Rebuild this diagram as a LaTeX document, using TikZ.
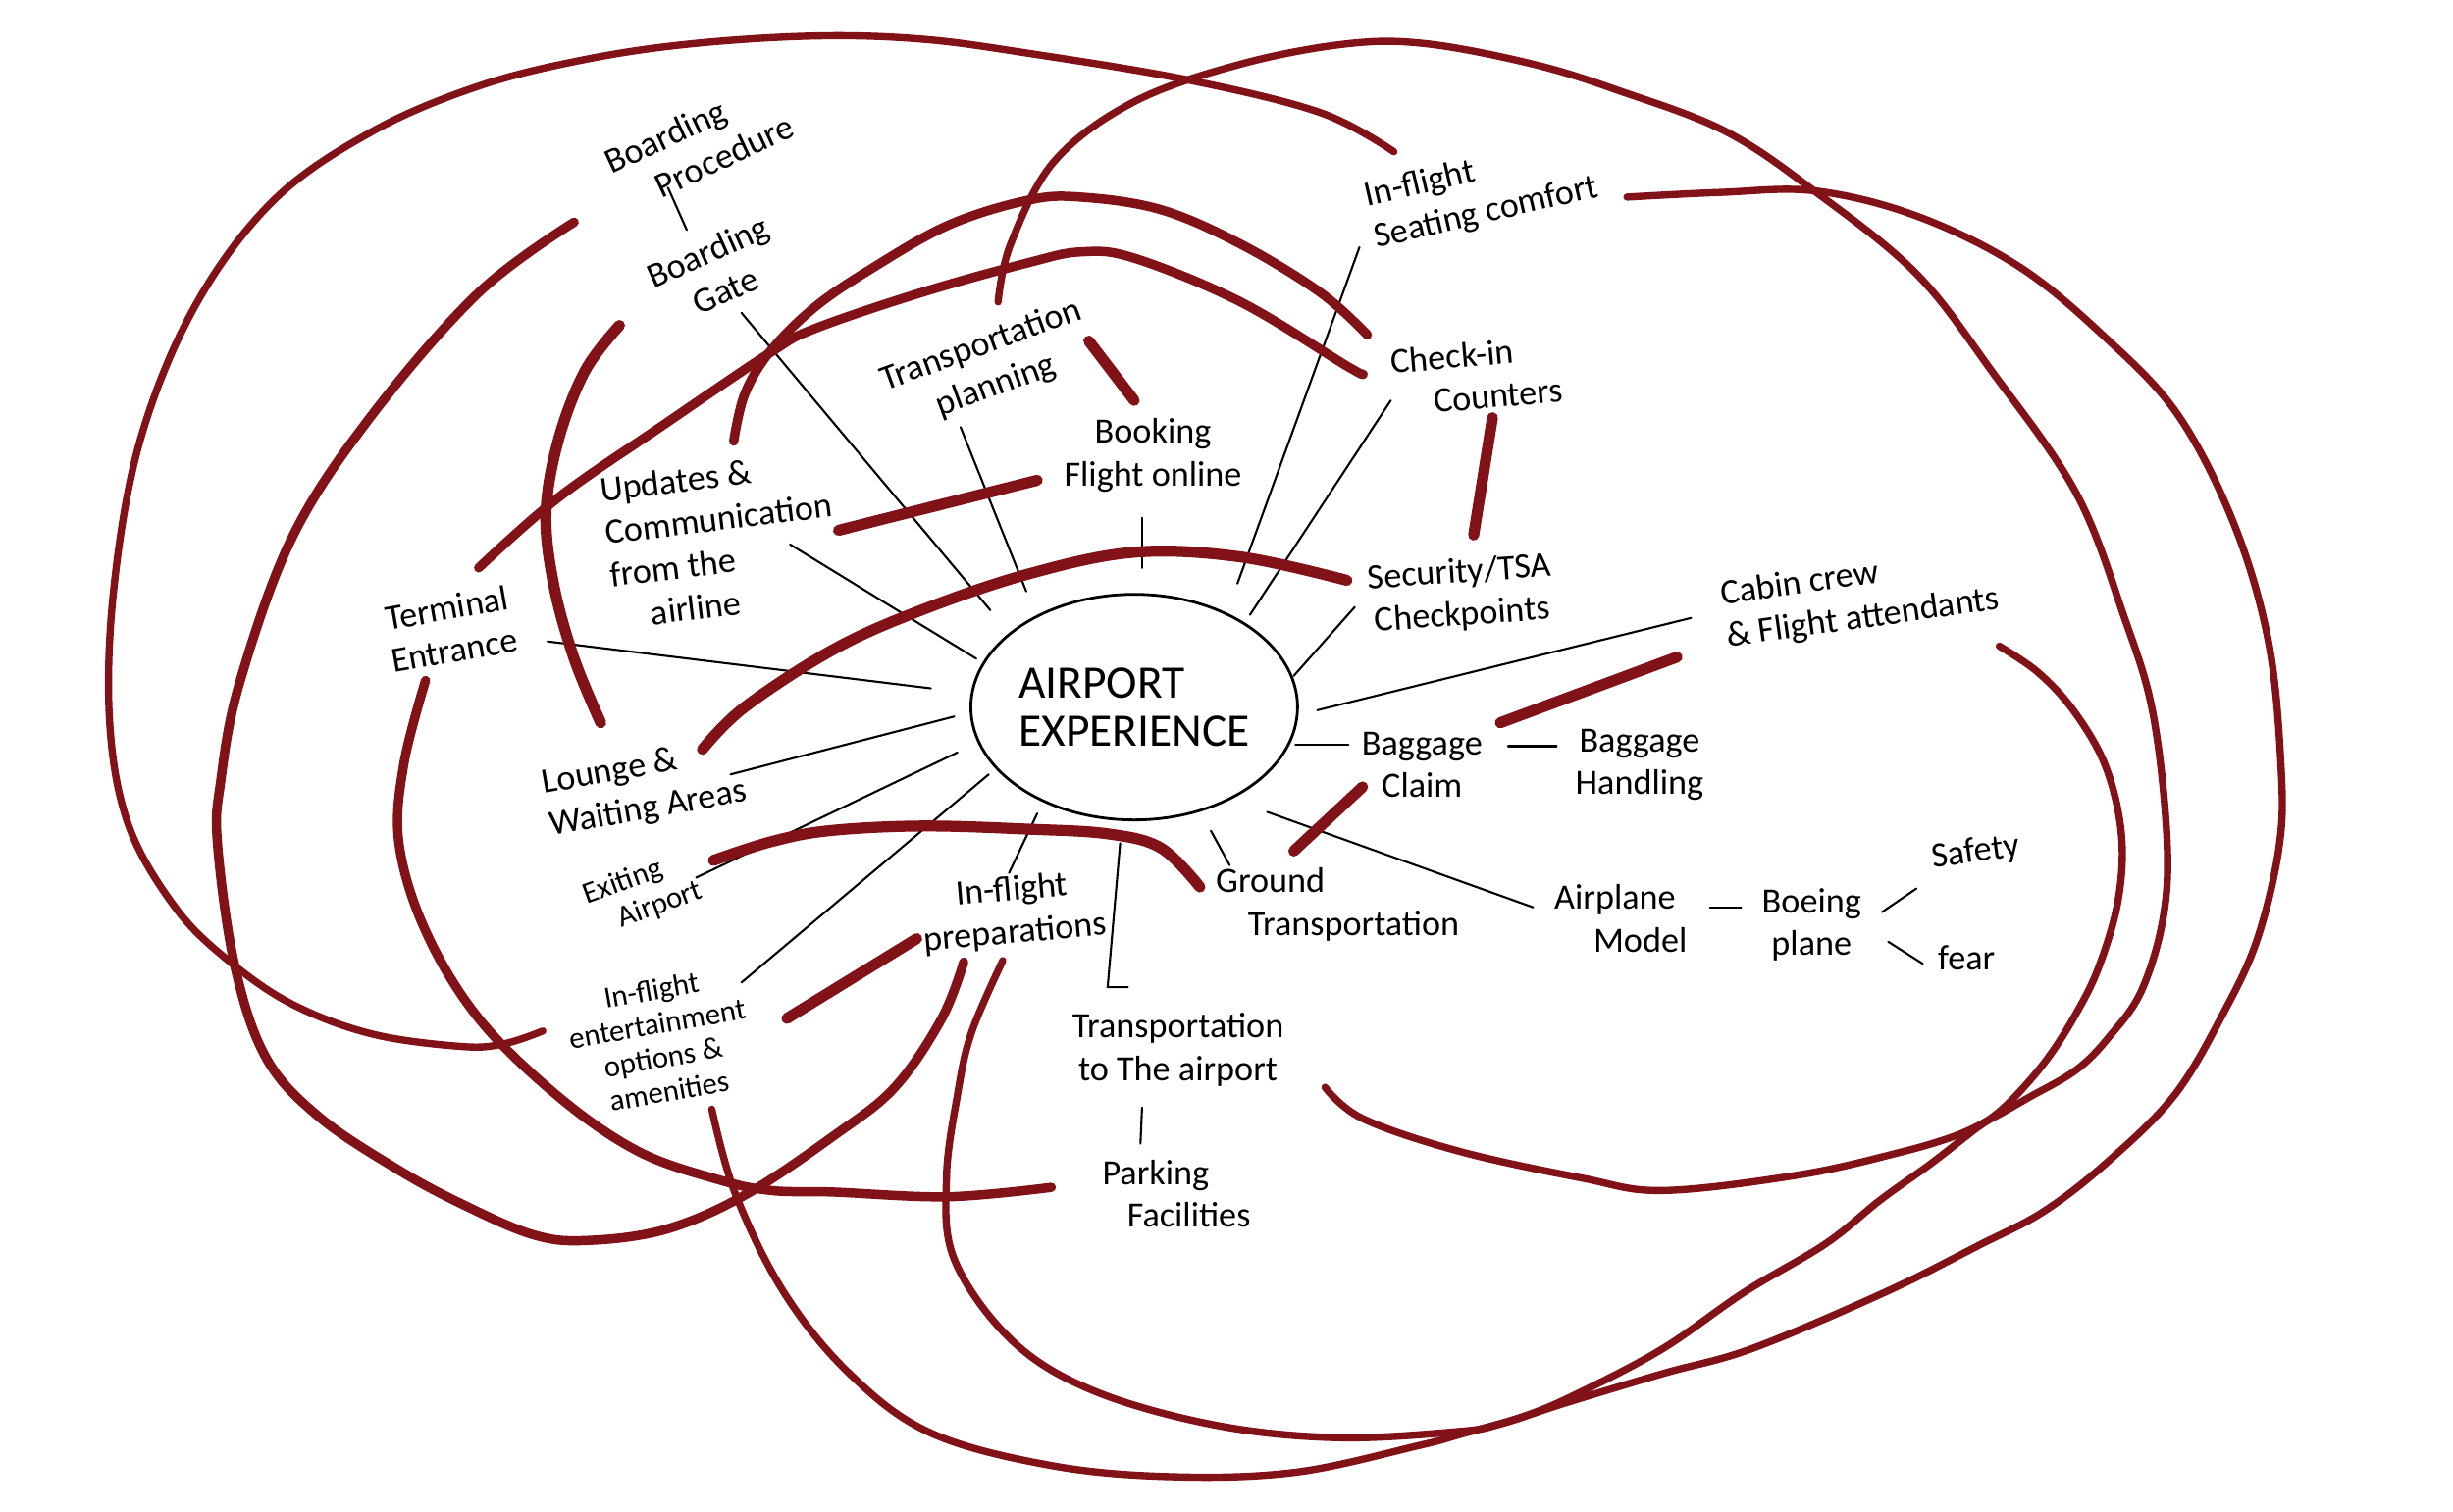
\documentclass[tikz,border=0pt]{standalone}
\usepackage{fontspec}
\setmainfont{Carlito}
\usetikzlibrary{shapes.geometric}
\definecolor{mred}{RGB}{128,18,24}
\newcommand\lblfont{\fontsize{10.3}{12.4}\selectfont}
\newcommand\smlfont{\fontsize{8.8}{9.9}\selectfont}
\newcommand\bigfont{\fontsize{13.5}{14}\selectfont}
\begin{document}
\begin{tikzpicture}[x=0.0159439cm,y=-0.0159439cm,
  lbl/.style={font=\lblfont, inner sep=0pt, align=center, text=black},
  link/.style={draw=black, line width=0.6pt, line cap=round},
  rthick/.style={draw=mred, line width=3.2pt, line cap=round, line join=round},
  rmid/.style={draw=mred, line width=2.7pt, line cap=round, line join=round},
  rthin/.style={draw=mred, line width=2.1pt, line cap=round, line join=round},
  curvy/.style={smooth, tension=0.6}]
\fill[white] (0,0) rectangle (1568,966);
\useasboundingbox (0,0) rectangle (1568,966);

% ---------- labels ----------
\node[draw, ellipse, minimum width=3.09cm, minimum height=2.30cm, inner sep=0pt,
      line width=0.8pt, align=left, font=\bigfont] (core) at (725,452) {AIRPORT\\EXPERIENCE};
\node[lbl, rotate=25, align=left] (bproc) at (447,92) {Boarding\\\hspace*{1em}Procedure};
\node[lbl, rotate=24] (bgate) at (458,173) {Boarding\\Gate};
\node[lbl, rotate=20] (tplan) at (632,234) {Transportation\\planning};
\node[lbl] (booking) at (737,291) {Booking\\Flight online};
\node[lbl, rotate=13, align=left] (seat) at (947,123) {In-flight\\Seating comfort};
\node[lbl, rotate=5, align=left] (checkin) at (944,240) {Check-in\\\hspace*{1.1em}Counters};
\node[lbl, rotate=4] (security) at (934,380) {Security/TSA\\Checkpoints};
\node[lbl, rotate=8, align=left] (cabin) at (1189,382) {Cabin crew\\\& Flight attendants};
\node[lbl] (bclaim) at (909,489) {Baggage\\Claim};
\node[lbl] (bhandle) at (1048,489) {Baggage\\Handling};
\node[lbl, align=left] (airplane) at (1036,587) {Airplane\\\hspace*{1.1em}Model};
\node[lbl] (boeing) at (1158,591) {Boeing\\plane};
\node[lbl, rotate=8] (safety) at (1263,545) {Safety};
\node[lbl] (fear) at (1257,612) {fear};
\node[lbl, align=left] (ground) at (855,578) {Ground\\\hspace*{0.9em}Transportation};
\node[lbl, rotate=5] (prep) at (648,583) {In-flight\\preparations};
\node[lbl] (tairport) at (753,671) {Transportation\\to The airport};
\node[lbl, align=left] (parking) at (752,763) {Parking\\\hspace*{0.7em}Facilities};
\node[lbl, font=\smlfont, rotate=10] (ent) at (422,665) {In-flight\\entertainment\\options \&\\amenities};
\node[lbl, font=\smlfont, rotate=20, align=left] (exiting) at (411,571) {Exiting\\\hspace*{0.8em}Airport};
\node[lbl, rotate=10, align=left] (lounge) at (412,504) {Lounge \&\\Waiting Areas};
\node[lbl, rotate=10] (terminal) at (288,402) {Terminal\\Entrance};
\node[lbl, rotate=7, align=left] (updates) at (461,345) {Updates \&\\Communication\\from the\\\hspace*{1em}airline};

% ---------- thin connector ends ----------
\coordinate (bp1) at (427,120); \coordinate (bg0) at (439,147);
\coordinate (bg1) at (474,200); \coordinate (k1) at (633,390);
\coordinate (tp1) at (614,273); \coordinate (k2) at (656,378);
\coordinate (bk1) at (730,331); \coordinate (k3) at (730,363);
\coordinate (sc1) at (869,158); \coordinate (k4) at (791,373);
\coordinate (ci1) at (889,256); \coordinate (k5) at (799,393);
\coordinate (se1) at (866,388); \coordinate (k6) at (827,432);
\coordinate (cc1) at (1081,395); \coordinate (k7) at (842,454);
\coordinate (k8) at (828,476); \coordinate (bc1) at (862,476);
\coordinate (bc2) at (964,477); \coordinate (bh1) at (995,477);
\coordinate (k9) at (810,519); \coordinate (am1) at (980,580);
\coordinate (am2) at (1093,580); \coordinate (bo1) at (1113,580);
\coordinate (bo2) at (1203,583); \coordinate (sf1) at (1225,568);
\coordinate (bo3) at (1207,602); \coordinate (fe1) at (1229,616);
\coordinate (k10) at (774,531); \coordinate (gt1) at (786,553);
\coordinate (k11) at (716,539); \coordinate (ta0) at (708,631); \coordinate (ta1) at (721,631);
\coordinate (ta2) at (730,708); \coordinate (pk1) at (729,731);
\coordinate (ip1) at (645,558); \coordinate (k12) at (663,520);
\coordinate (en1) at (474,628); \coordinate (k13) at (632,495);
\coordinate (ex1) at (445,561); \coordinate (k14) at (612,481);
\coordinate (lo1) at (467,495); \coordinate (k15) at (610,458);
\coordinate (te1) at (350,410); \coordinate (k16) at (595,440);
\coordinate (up1) at (505,348); \coordinate (k17) at (624,421);

\draw[link] (bp1) -- (bg0);
\draw[link] (bg1) -- (k1);
\draw[link] (tp1) -- (k2);
\draw[link] (bk1) -- (k3);
\draw[link] (sc1) -- (k4);
\draw[link] (ci1) -- (k5);
\draw[link] (se1) -- (k6);
\draw[link] (cc1) -- (k7);
\draw[link] (k8) -- (bc1);
\draw[link] (bc2) -- (bh1);
\draw[link] (k9) -- (am1);
\draw[link] (am2) -- (bo1);
\draw[link] (bo2) -- (sf1);
\draw[link] (bo3) -- (fe1);
\draw[link] (k10) -- (gt1);
\draw[link] (k11) -- (ta0) -- (ta1);
\draw[link] (ta2) -- (pk1);
\draw[link] (ip1) -- (k12);
\draw[link] (en1) -- (k13);
\draw[link] (ex1) -- (k14);
\draw[link] (lo1) -- (k15);
\draw[link] (te1) -- (k16);
\draw[link] (up1) -- (k17);

% ---------- red connector ends ----------
\coordinate (r1a) at (891,97);   \coordinate (r1b) at (347,659);
\coordinate (r2a) at (638,193);  \coordinate (r2b) at (847,695);
\coordinate (rca) at (1278,413); \coordinate (rcb) at (455,709);
\coordinate (rba) at (1040,126); \coordinate (rbb) at (641,614);
\coordinate (r3a) at (367,142);  \coordinate (r3b) at (616,615);
\coordinate (r4a) at (272,435);  \coordinate (r4b) at (672,759);
\coordinate (bla) at (396,208);  \coordinate (blb) at (384,462);
\coordinate (uca) at (469,282);  \coordinate (ucb) at (874,214);
\coordinate (tca) at (306,363);  \coordinate (tcb) at (871,239);
\coordinate (lsa) at (449,479);  \coordinate (lsb) at (861,371);
\coordinate (ega) at (456,550);  \coordinate (egb) at (767,567);
\coordinate (s1a) at (536,339);  \coordinate (s1b) at (663,307);
\coordinate (s2a) at (696,218);  \coordinate (s2b) at (725,256);
\coordinate (s3a) at (954,267);  \coordinate (s3b) at (942,342);
\coordinate (s4a) at (959,462);  \coordinate (s4b) at (1072,420);
\coordinate (s5a) at (871,503);  \coordinate (s5b) at (827,544);
\coordinate (s6a) at (586,600);  \coordinate (s6b) at (503,651);

% long loops
\draw[rthin] plot[curvy] coordinates {(r1a) (844,72) (759,51) (657,34) (589,25) (521,23) (442,28) (374,38) (306,55) (238,84) (175,128) (125,195) (90,280) (73,374) (70,460) (82,527) (112,580) (146,614) (187,642) (238,661) (296,669) (323,667) (r1b)};
\draw[rthin] plot[curvy] coordinates {(r2a) (646,156) (674,103) (725,65) (793,41) (861,28) (912,28) (980,41) (1035,58) (1103,84) (1161,123) (1225,175) (1273,237) (1327,315) (1358,395) (1376,455) (1385,533) (1383,585) (1369,633) (1348,663) (1327,684) (1296,702) (1273,715) (1250,726) (1213,737) (1150,751) (1063,761) (1011,753) (933,736) (871,715) (r2b)};
\draw[rthin] plot[curvy] coordinates {(rca) (1303,430) (1326,455) (1346,490) (1356,533) (1354,575) (1342,617) (1327,648) (1307,679) (1282,707) (1261,723) (1234,744) (1202,767) (1167,795) (1115,826) (1063,862) (1010,890) (975,905) (933,917) (907,924) (829,941) (751,944) (673,937) (595,916) (543,878) (501,826) (470,763) (rcb)};
\draw[rthin] plot[curvy] coordinates {(rba) (1100,123) (1160,122) (1225,138) (1290,170) (1345,215) (1392,265) (1428,335) (1450,410) (1458,489) (1457,540) (1443,600) (1421,648) (1390,700) (1348,742) (1307,774) (1265,796) (1205,826) (1120,862) (1063,878) (1000,897) (960,910) (933,915) (855,919) (777,911) (699,889) (647,857) (610,805) (605,753) (612,700) (621,660) (rbb)};
\draw[rmid] plot[curvy] coordinates {(r3a) (306,187) (238,265) (187,343) (153,437) (141,500) (139,539) (150,617) (170,676) (204,714) (255,748) (296,770) (340,789) (374,793) (425,786) (476,764) (533,726) (572,695) (602,651) (r3b)};
\draw[rmid] plot[curvy] coordinates {(r4a) (258,489) (255,539) (272,595) (306,651) (357,701) (408,736) (459,754) (493,761) (533,762) (606,765) (r4b)};
% inner arcs
\draw[rthick] plot[curvy] coordinates {(bla) (374,237) (357,281) (349,328) (354,374) (367,421) (blb)};
\draw[rmid] plot[curvy] coordinates {(uca) (476,252) (492,225) (520,197) (555,173) (606,144) (657,128) (691,126) (742,134) (793,156) (844,187) (ucb)};
\draw[rmid] plot[curvy] coordinates {(tca) (357,318) (425,271) (493,225) (521,210) (589,187) (657,168) (691,161) (725,165) (793,193) (861,234) (tcb)};
\draw[rthick] plot[curvy] coordinates {(lsa) (476,452) (533,415) (589,390) (657,367) (725,353) (793,356) (lsb)};
\draw[rthick] plot[curvy] coordinates {(ega) (493,538) (530,531) (589,528) (657,530) (708,533) (742,542) (egb)};
% short strokes
\draw[rthick] (s1a) -- (s1b);
\draw[rthick] (s2a) -- (s2b);
\draw[rthick] (s3a) -- (s3b);
\draw[rthick] (s4a) -- (s4b);
\draw[rthick] (s5a) -- (s5b);
\draw[rthick] (s6a) -- (s6b);
\end{tikzpicture}
\end{document}
